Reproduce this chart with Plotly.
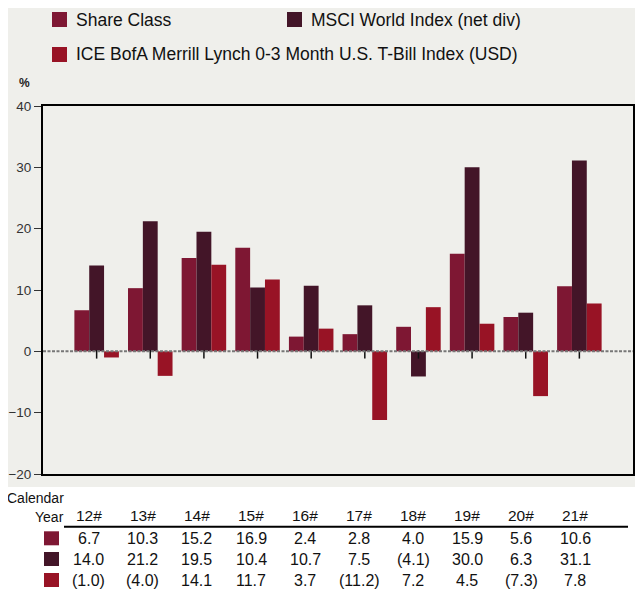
import plotly.graph_objects as go

years = ["12#", "13#", "14#", "15#", "16#", "17#", "18#", "19#", "20#", "21#"]
series_names = ["Share Class", "MSCI World Index (net div)",
                "ICE BofA Merrill Lynch 0-3 Month U.S. T-Bill Index (USD)"]
share_class = [6.7, 10.3, 15.2, 16.9, 2.4, 2.8, 4.0, 15.9, 5.6, 10.6]
msci_world = [14.0, 21.2, 19.5, 10.4, 10.7, 7.5, -4.1, 30.0, 6.3, 31.1]
ice_tbill = [-1.0, -4.0, 14.1, 11.7, 3.7, -11.2, 7.2, 4.5, -7.3, 7.8]
y_ticks = [-20, -10, 0, 10, 20, 30, 40]

colors = ["#7e1733", "#431528", "#981325"]
series = [share_class, msci_world, ice_tbill]

BG = "#efefeb"
SANS = "Liberation Sans Narrow, Arial Narrow, Liberation Sans, Arial, sans-serif"

# page body has an 8px margin; figure is sized to fill the rest of the window
OFF = 8
W, H = 643 - OFF, 592 - OFF
PL, PT, PW, PH = 43, 106, 590, 368          # plot area in page pixels
L, T = PL - OFF, PT - OFF
R = W - L - PW
B = H - T - PH


def px_x(p):
    return (p - PL) / PW


def px_y(p):
    return (PT + PH - p) / PH


def fmt(v):
    return f"({abs(v):.1f})" if v < 0 else f"{v:.1f}"


fig = go.Figure()
for name, vals, col in zip(series_names, series, colors):
    fig.add_trace(go.Bar(x=years, y=vals, name=name, marker=dict(color=col, line=dict(width=0)),
                         showlegend=False, hoverinfo="x+y+name"))

# small ticks under zero line at each category
fig.add_trace(go.Scatter(x=years, y=[-0.5] * len(years), mode="markers",
                         marker=dict(symbol="line-ns", size=6, line=dict(width=1.5, color="#111")),
                         showlegend=False, hoverinfo="skip"))

shapes = []
shapes.append(dict(type="rect", xref="paper", yref="paper", layer="below",
                   x0=px_x(OFF), x1=px_x(643), y0=px_y(487), y1=px_y(OFF),
                   fillcolor=BG, line=dict(width=0)))
shapes.append(dict(type="line", xref="x", yref="y", x0=-1, x1=10, y0=0, y1=0,
                   line=dict(color="#777777", width=2, dash="3px,1.5px"), layer="above"))

annotations = []
legend_items = [
    (52, 12, 76, 19.5),
    (287, 12, 311, 19.5),
    (52, 47, 76, 54.5),
]
for (sx, sy, tx, ty), name, col in zip(legend_items, series_names, colors):
    shapes.append(dict(type="rect", xref="paper", yref="paper",
                       x0=px_x(sx), x1=px_x(sx + 15), y0=px_y(sy + 15), y1=px_y(sy),
                       fillcolor=col, line=dict(width=0)))
    annotations.append(dict(xref="paper", yref="paper", x=px_x(tx - 2), y=px_y(ty),
                            xanchor="left", yanchor="middle", text=name, showarrow=False,
                            font=dict(family=SANS, size=17.5, color="#111")))

annotations.append(dict(xref="paper", yref="paper", x=px_x(24), y=px_y(83),
                        xanchor="center", yanchor="middle", text="<b>%</b>", showarrow=False,
                        font=dict(family=SANS, size=12, color="#222")))

annotations.append(dict(xref="paper", yref="paper", x=px_x(66), y=px_y(497.5),
                        xanchor="right", yanchor="middle", text="Calendar", showarrow=False,
                        font=dict(family=SANS, size=14, color="#111")))
annotations.append(dict(xref="paper", yref="paper", x=px_x(66), y=px_y(516.7),
                        xanchor="right", yanchor="middle", text="Year", showarrow=False,
                        font=dict(family=SANS, size=14, color="#111")))
shapes.append(dict(type="line", xref="paper", yref="paper", x0=px_x(64), x1=px_x(628),
                   y0=px_y(526.7), y1=px_y(526.7), line=dict(color="#000", width=2)))

row_y = [538.3, 559.0, 580.0]
for i, yr in enumerate(years):
    cx = i * 1.0075 - 0.144
    annotations.append(dict(xref="x", yref="paper", x=cx, y=px_y(515.7),
                            xanchor="center", yanchor="middle", text=yr, showarrow=False,
                            font=dict(family=SANS, size=15.5, color="#111")))
    for vals, ry in zip(series, row_y):
        annotations.append(dict(xref="x", yref="paper", x=cx, y=px_y(ry),
                                xanchor="center", yanchor="middle", text=fmt(vals[i]),
                                showarrow=False,
                                font=dict(family=SANS, size=16, color="#111")))
for col, ry in zip(colors, row_y):
    shapes.append(dict(type="rect", xref="paper", yref="paper",
                       x0=px_x(44), x1=px_x(59), y0=px_y(ry + 7), y1=px_y(ry - 7),
                       fillcolor=col, line=dict(width=0)))

fig.update_layout(
    width=W, height=H,
    margin=dict(l=L, r=R, t=T, b=B, pad=0, autoexpand=False),
    paper_bgcolor="white", plot_bgcolor=BG,
    barmode="group", bargap=0.17, bargroupgap=0,
    shapes=shapes, annotations=annotations,
    showlegend=False,
    xaxis=dict(range=[-1, 10], showticklabels=False, ticks="", showgrid=False, zeroline=False,
               showline=True, linecolor="#000", linewidth=2, mirror=True, fixedrange=True,
               automargin=False),
    yaxis=dict(range=[-20, 40], tickvals=y_ticks, ticks="outside", ticklen=7, tickwidth=1,
               tickcolor="#333", showgrid=False, zeroline=False,
               showline=True, linecolor="#000", linewidth=2, mirror=True,
               tickfont=dict(family=SANS, size=13.5, color="#333"), fixedrange=True,
               automargin=False),
)

fig.write_html("out.html")
